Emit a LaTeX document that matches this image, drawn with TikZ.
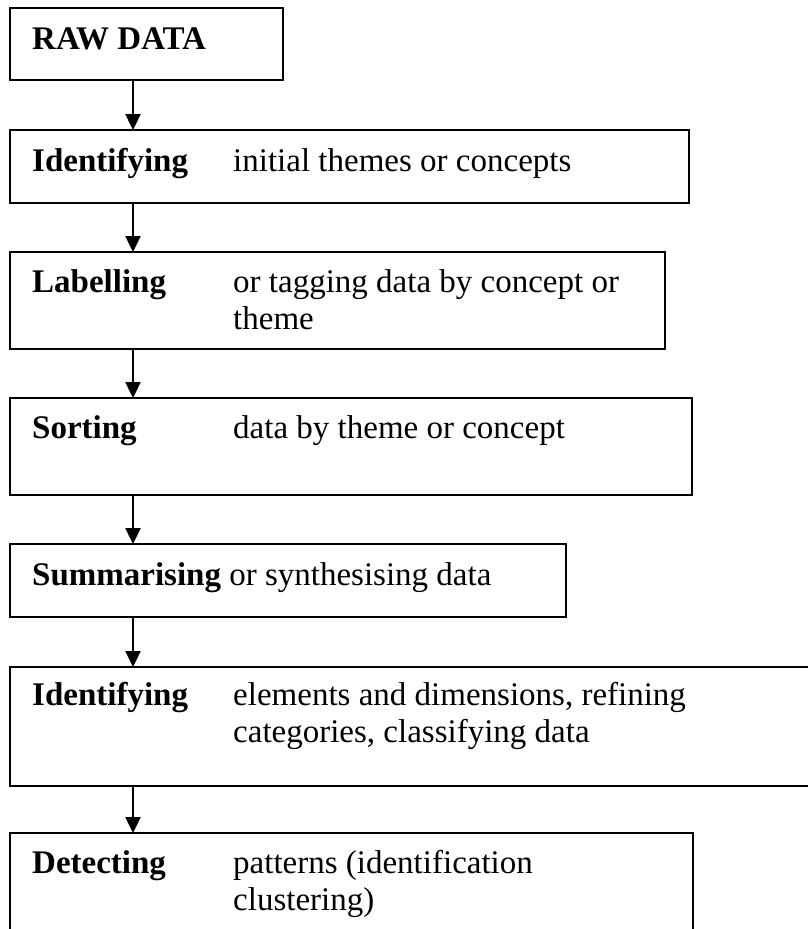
\documentclass[tikz,border=0pt]{standalone}
\usepackage{fontspec}
\setmainfont{Liberation Serif}
\usetikzlibrary{arrows.meta}
\begin{document}
\begin{tikzpicture}[x=1pt,y=-1pt,
  stage/.style={draw, line width=2.2pt, rectangle, inner sep=0pt, outer sep=0pt, anchor=north west},
  lbl/.style={anchor=base west, inner sep=0pt, font=\fontsize{33}{37.5}\selectfont},
  key/.style={lbl, font=\fontsize{33}{37.5}\selectfont\bfseries},
  flow/.style={line width=2.4pt, -{Triangle[width=15pt,length=16pt]}}]
\useasboundingbox (0,0) rectangle (808,929);
\clip (0,0) rectangle (808,929);

% stage boxes
\node[stage, minimum width=273pt, minimum height=72pt]  (b1) at (10,8)   {};
\node[stage, minimum width=679pt, minimum height=73pt]  (b2) at (10,130) {};
\node[stage, minimum width=655pt, minimum height=97pt]  (b3) at (10,252) {};
\node[stage, minimum width=682pt, minimum height=97pt]  (b4) at (10,398) {};
\node[stage, minimum width=556pt, minimum height=73pt]  (b5) at (10,544) {};
\node[stage, minimum width=810pt, minimum height=119pt] (b6) at (10,667) {};
\node[stage, minimum width=683pt, minimum height=110pt] (b7) at (10,833) {};

% connectors
\foreach \a/\b in {b1/b2,b2/b3,b3/b4,b4/b5,b5/b6,b6/b7}
  \draw[flow] ([xshift=123pt]\a.south west) -- ([xshift=123pt]\b.north west);

% texts
\node[key] (k1) at (32,49) {RAW DATA};

\node[key] (k2) at (32,171) {Identifying};
\node[lbl] (d2) at (233,171) {initial themes or concepts};

\node[key] (k3) at (32,292) {Labelling};
\node[lbl] (d3a) at (233,292) {or tagging data by concept or};
\node[lbl] (d3b) at (233,329.5) {theme};

\node[key] (k4) at (32,438) {Sorting};
\node[lbl] (d4) at (233,438) {data by theme or concept};

\node[lbl] (k5) at (32,585) {\textbf{Summarising} or synthesising data};

\node[key] (k6) at (32,705) {Identifying};
\node[lbl] (d6a) at (233,705) {elements and dimensions, refining};
\node[lbl] (d6b) at (233,742.5) {categories, classifying data};

\node[key] (k7) at (32,873) {Detecting};
\node[lbl] (d7a) at (233,873) {patterns (identification};
\node[lbl] (d7b) at (233,910.5) {clustering)};
\end{tikzpicture}
\end{document}
